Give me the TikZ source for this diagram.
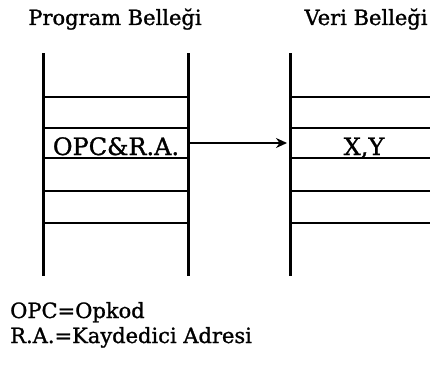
\documentclass[tikz,border=0pt]{standalone}
\usepackage{fontspec}
\setmainfont{DejaVu Serif}[BoldFont={DejaVu Serif},BoldFeatures={FakeBold=1.2}]
\usetikzlibrary{arrows.meta}
\begin{document}
\begin{tikzpicture}[x=1pt,y=-1pt,
  wall/.style={line width=3pt},
  shelf/.style={line width=2pt},
  title/.style={font=\bfseries\fontsize{21}{24}\selectfont, inner sep=0pt, anchor=base},
  cell/.style={font=\bfseries\fontsize{24}{26}\selectfont, inner sep=0pt, anchor=base},
  note/.style={font=\bfseries\fontsize{21}{24}\selectfont, inner sep=0pt, anchor=base west},
  link/.style={line width=1.8pt, -{Stealth[length=11pt,width=10pt]}}]
  \useasboundingbox (0,0) rectangle (430,369);

  % titles
  \node[title] (ptitle) at (115,25) {Program Belleği};
  \node[title] (vtitle) at (366,25) {Veri Belleği};

  % program memory column
  \draw[wall] (43,53) -- (43,276);
  \draw[wall] (188,53) -- (188,276);
  \foreach \y in {97,128,158,191,223}
    \draw[shelf] (43,\y) -- (188,\y);

  % data memory column (open on the right)
  \draw[wall] (290,53) -- (290,276);
  \foreach \y in {97,128,158,191,223}
    \draw[shelf] (290,\y) -- (430,\y);

  % cell contents
  \node[cell] (instr) at (116,155) {OPC\&R.A.};
  \node[cell] (data) at (364,155) {X,Y};

  % address link between the two memories
  \coordinate (src) at (188,143);
  \coordinate (dst) at (287,143);
  \draw[link] (src) -- (dst);

  % legend
  \node[note] (leg1) at (10,318) {OPC=Opkod};
  \node[note] (leg2) at (10,343) {R.A.=Kaydedici Adresi};
\end{tikzpicture}
\end{document}
